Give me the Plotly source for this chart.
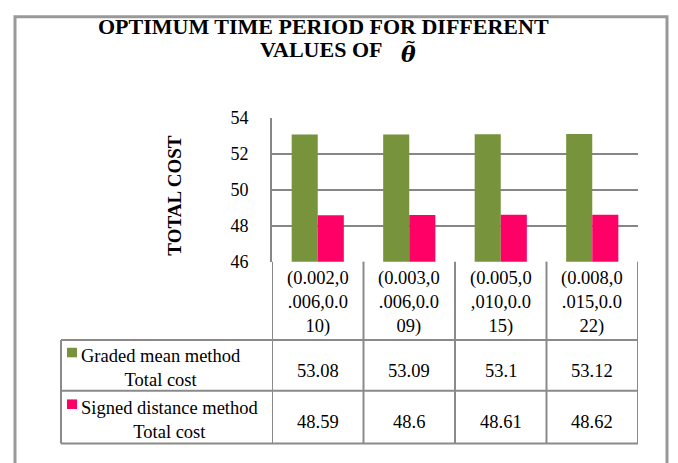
import plotly.graph_objects as go

categories = ["(0.002,0.006,0.010)", "(0.003,0.006,0.009)", "(0.005,0,010,0.015)", "(0.008,0.015,0.022)"]
series_names = ["Graded mean method<br>Total cost", "Signed distance method<br>Total cost"]
graded_mean = [53.08, 53.09, 53.1, 53.12]
signed_distance = [48.59, 48.6, 48.61, 48.62]
y_ticks = [46, 48, 50, 52, 54]

W, H = 678, 463
FONT = "Liberation Serif, Times New Roman, serif"
GREEN = "#77933C"
PINK = "#FF0066"
GRID = "#868686"
TBL = "#8a8a8a"

def px(x):
    return x / W

def py(y):
    return 1 - y / H

def wrap(s, n=8):
    return "<br>".join(s[i:i + n] for i in range(0, len(s), n))

fig = go.Figure()
fig.add_trace(go.Bar(x=categories, y=graded_mean, name="Graded mean method", marker_color=GREEN, marker_line_width=0))
fig.add_trace(go.Bar(x=categories, y=signed_distance, name="Signed distance method", marker_color=PINK, marker_line_width=0))

X0, X1 = 272, 638
Y_TOP, Y_BOT = 113, 263
ROW1, ROW2, ROW3 = 345, 398, 453
TL = 61

shapes = []
shapes.append(dict(type="rect", xref="paper", yref="paper", x0=px(15), x1=px(667), y0=py(475), y1=py(7),
                   line=dict(color="#999999", width=3), layer="below"))
for yy in (ROW1, ROW2, ROW3):
    shapes.append(dict(type="line", xref="paper", yref="paper", x0=px(TL), x1=px(X1), y0=py(yy), y1=py(yy),
                       line=dict(color=TBL, width=2)))
for i in range(len(categories) + 1):
    shapes.append(dict(type="line", xref="x", yref="paper", x0=i - 0.5, x1=i - 0.5, y0=py(ROW3), y1=py(Y_BOT),
                       line=dict(color=TBL, width=2)))
shapes.append(dict(type="line", xref="paper", yref="paper", x0=px(TL), x1=px(TL), y0=py(ROW3), y1=py(ROW1),
                   line=dict(color=TBL, width=2)))
for col, ytop in [(GREEN, 353), (PINK, 407)]:
    shapes.append(dict(type="rect", xref="paper", yref="paper", x0=px(67), x1=px(77), y0=py(ytop + 10), y1=py(ytop),
                       fillcolor=col, line=dict(width=0)))

TXT = dict(family=FONT, size=18.5, color="black")
annotations = []
annotations.append(dict(text="<b>OPTIMUM TIME PERIOD FOR DIFFERENT</b>", xref="paper", yref="paper",
                        x=px(323), y=py(17), xanchor="center", yanchor="middle", showarrow=False,
                        font=dict(family=FONT, size=22, color="black")))
annotations.append(dict(text="<b>VALUES OF</b>", xref="paper", yref="paper",
                        x=px(258), y=py(41), xanchor="left", yanchor="middle", showarrow=False,
                        font=dict(family=FONT, size=22, color="black")))
annotations.append(dict(text="<b><i>θ</i></b>", xref="paper", yref="paper",
                        x=px(408), y=py(46), xanchor="center", yanchor="middle", showarrow=False,
                        font=dict(family="DejaVu Serif", size=22, color="black")))
annotations.append(dict(text="<b>~</b>", xref="paper", yref="paper",
                        x=px(410), y=py(33), xanchor="center", yanchor="middle", showarrow=False,
                        font=dict(family="DejaVu Sans", size=13, color="black")))
annotations.append(dict(text="<b>TOTAL COST</b>", xref="paper", yref="paper", x=px(175), y=py(193),
                        xanchor="center", yanchor="middle", textangle=-90, showarrow=False,
                        font=dict(family=FONT, size=19, color="black")))
for c in categories:
    annotations.append(dict(text=wrap(c), xref="x", yref="paper", x=c, y=py(306), xanchor="center",
                            yanchor="middle", showarrow=False, font=TXT))
for name, ymid in zip(series_names, [374, 428]):
    annotations.append(dict(text=name, xref="paper", yref="paper", x=px(79), y=py(ymid), xanchor="left",
                            align="center", yanchor="middle", showarrow=False, font=TXT))
for vals, ymid in zip([graded_mean, signed_distance], [377, 431]):
    for c, v in zip(categories, vals):
        annotations.append(dict(text=f"{v:g}", xref="x", yref="paper", x=c, y=py(ymid), xanchor="center",
                                yanchor="middle", showarrow=False, font=TXT))

fig.update_layout(
    width=W, height=H, margin=dict(l=0, r=0, t=0, b=0),
    paper_bgcolor="white", plot_bgcolor="white",
    barmode="group", bargap=0.43, bargroupgap=0,
    showlegend=False,
    font=dict(family=FONT, size=18, color="black"),
    xaxis=dict(domain=[px(X0), px(X1)], showticklabels=False, showgrid=False, zeroline=False,
               showline=False, ticks="", range=[-0.5, len(categories) - 0.5]),
    yaxis=dict(domain=[py(Y_BOT), py(Y_TOP)], range=[46, 54], tickvals=y_ticks, showgrid=True,
               gridcolor=GRID, gridwidth=2, showline=True, linecolor=GRID, linewidth=2, ticks="",
               zeroline=False, ticklabelstandoff=18, tickfont=dict(family=FONT, size=18, color="black")),
    shapes=shapes, annotations=annotations,
)
fig.write_html("out.html")
